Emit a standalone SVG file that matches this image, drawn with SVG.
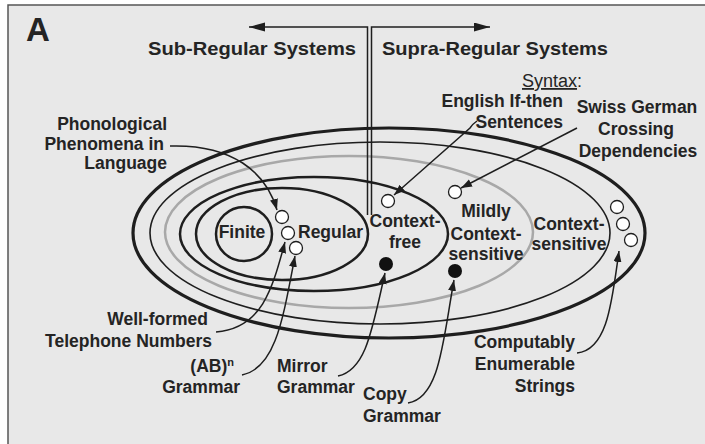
<svg xmlns="http://www.w3.org/2000/svg" width="705" height="444" viewBox="0 0 705 444">
<defs>
<marker id="ah" markerUnits="userSpaceOnUse" markerWidth="12" markerHeight="9" refX="11" refY="4" orient="auto"><path d="M0,0 L11,4 L0,8 z" fill="#1e1e1e"/></marker>
<marker id="ahBig" markerUnits="userSpaceOnUse" markerWidth="17" markerHeight="10" refX="16" refY="4.5" orient="auto"><path d="M0,0 L16,4.5 L0,9 z" fill="#1e1e1e"/></marker>
<style>
.t{font-family:"Liberation Sans",Arial,sans-serif;font-weight:bold;font-size:17.5px;fill:#242424}
.h{font-size:19px}
.r{font-weight:normal;font-size:18px}
.e{fill:none;stroke:#1e1e1e}
.c{fill:none;stroke:#1e1e1e;stroke-width:1.5}
.w{fill:#fff;stroke:#1e1e1e;stroke-width:1.3}
.b{fill:#111}
</style>
</defs>
<rect x="0" y="0" width="705" height="444" fill="#fff"/>
<rect x="8" y="5" width="710" height="450" fill="#e8e8e8" stroke="#555" stroke-width="1.5"/>
<text class="t" x="26" y="41" style="font-size:33px">A</text>

<g id="ellipses">
<ellipse id="n-ce" class="e" cx="389" cy="233" rx="256" ry="105" stroke-width="3.2"/>
<ellipse id="n-cs" class="e" cx="380" cy="233" rx="230" ry="91" stroke-width="1.6"/>
<ellipse id="n-mcs" cx="349" cy="232" rx="184" ry="76" fill="none" stroke="#a8a8a8" stroke-width="2.5"/>
<ellipse id="n-cf" class="e" cx="314" cy="234" rx="134" ry="57" stroke-width="2.5"/>
<ellipse id="n-reg" class="e" cx="282" cy="234" rx="86" ry="46" stroke-width="2.5"/>
<ellipse id="n-fin" class="e" cx="244" cy="234" rx="28" ry="27" stroke-width="2.5"/>
</g>

<g id="connectors">
<path class="c" d="M367.5,215 V27 H249" marker-end="url(#ahBig)"/>
<path class="c" d="M371.5,215 V27 H490" marker-end="url(#ahBig)"/>
<path class="c" d="M170,146 C232,144 266,172 277,210" marker-end="url(#ah)"/>
<path class="c" d="M477,121 C474,123 472,125 470,128 L394,195" marker-end="url(#ah)"/>
<path class="c" d="M577,128 L461,188" marker-end="url(#ah)"/>
<path class="c" d="M216,332 C262,328 272,290 285,242" marker-end="url(#ah)"/>
<path class="c" d="M242,375 C276,368 283,318 295,256" marker-end="url(#ah)"/>
<path class="c" d="M338,376 C366,370 372,330 385,273" marker-end="url(#ah)"/>
<path class="c" d="M408,403 C440,398 443,340 454,280" marker-end="url(#ah)"/>
<path class="c" d="M577,353 C608,350 612,300 619,251" marker-end="url(#ah)"/>
</g>

<g id="points">
<circle class="w" cx="282" cy="217" r="6.5"/>
<circle class="w" cx="288" cy="233" r="6.5"/>
<circle class="w" cx="296" cy="248" r="6.5"/>
<circle class="w" cx="388" cy="201" r="6.5"/>
<circle class="w" cx="455" cy="192" r="6.5"/>
<circle class="w" cx="617" cy="207" r="6.5"/>
<circle class="w" cx="623" cy="224" r="6.5"/>
<circle class="w" cx="631" cy="240" r="6.5"/>
<circle class="b" cx="386" cy="264" r="7"/>
<circle class="b" cx="455" cy="271" r="7"/>
</g>

<g id="labels">
<text class="t h" x="148" y="55" textLength="208" lengthAdjust="spacingAndGlyphs">Sub-Regular Systems</text>
<text class="t h" x="382" y="55" textLength="226" lengthAdjust="spacingAndGlyphs">Supra-Regular Systems</text>
<text class="t r" x="522" y="87"><tspan text-decoration="underline">Syntax</tspan>:</text>
<g text-anchor="end">
<text class="t" x="563" y="107">English If-then</text>
<text class="t" x="563" y="128">Sentences</text>
<text class="t" x="167" y="130">Phonological</text>
<text class="t" x="164" y="150">Phenomena in</text>
<text class="t" x="167" y="169">Language</text>
<text class="t" x="208" y="325">Well-formed</text>
<text class="t" x="212" y="347">Telephone Numbers</text>
<text class="t" x="234" y="372">(AB)<tspan dy="-6" style="font-size:11px">n</tspan></text>
<text class="t" x="240" y="393">Grammar</text>
<text class="t" x="575" y="348">Computably</text>
<text class="t" x="575" y="370">Enumerable</text>
<text class="t" x="575" y="392">Strings</text>
</g>
<g text-anchor="middle">
<text class="t" x="637" y="113">Swiss German</text>
<text class="t" x="636" y="135">Crossing</text>
<text class="t" x="638" y="157">Dependencies</text>
<text class="t" x="242" y="238">Finite</text>
<text class="t" x="405" y="227">Context-</text>
<text class="t" x="405" y="248">free</text>
<text class="t" x="486" y="217">Mildly</text>
<text class="t" x="486" y="240">Context-</text>
<text class="t" x="486" y="260">sensitive</text>
<text class="t" x="569" y="230">Context-</text>
<text class="t" x="569" y="250">sensitive</text>
</g>
<text class="t" x="298" y="238">Regular</text>
<text class="t" x="277" y="372">Mirror</text>
<text class="t" x="277" y="393">Grammar</text>
<text class="t" x="363" y="400">Copy</text>
<text class="t" x="363" y="422">Grammar</text>
</g>
</svg>
